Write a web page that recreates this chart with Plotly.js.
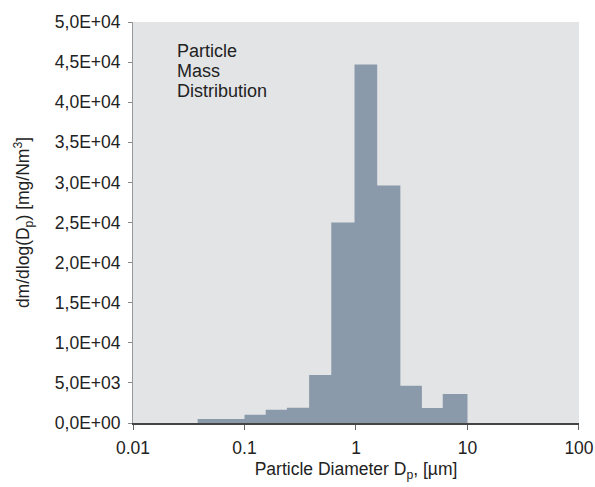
<!DOCTYPE html>
<html>
<head>
<meta charset="utf-8">
<script src="https://cdn.plot.ly/plotly-3.0.1.min.js"></script>
<style>html,body{margin:0;padding:0;background:#fff;}#chart{width:595px;height:487px;}</style>
</head>
<body>
<div id="chart"></div>
<script>
// Bin edges (µm) and mass distribution values per bin
const binEdges = [0.038, 0.1, 0.155, 0.24, 0.38, 0.6, 0.97, 1.55, 2.5, 3.9, 6.0, 10];
const massValues = [500, 1030, 1650, 1900, 6000, 25000, 44700, 29600, 4650, 1880, 3620];
const yTickVals = [0, 5000, 10000, 15000, 20000, 25000, 30000, 35000, 40000, 45000, 50000];
const yTickText = ["0,0E+00","5,0E+03","1,0E+04","1,5E+04","2,0E+04","2,5E+04","3,0E+04","3,5E+04","4,0E+04","4,5E+04","5,0E+04"];
const xTickVals = [0.01, 0.1, 1, 10, 100];
const xTickText = ["0.01", "0.1", "1", "10", "100"];
const labelLines = ["Particle", "Mass", "Distribution"];

const stepY = massValues.concat([0]);

const trace = {
  x: binEdges,
  y: stepY,
  type: 'scatter',
  mode: 'lines',
  line: {shape: 'hv', width: 0, color: '#8a9aaa'},
  fill: 'tozeroy',
  fillcolor: '#8a9aaa',
  hoverinfo: 'skip',
  showlegend: false
};

const fam = '"Liberation Sans", Arial, Helvetica, sans-serif';
const font = {family: fam, size: 17.5, color: '#222'};

const annY = [0.927, 0.877, 0.829];
const annotations = labelLines.map((t, i) => ({
  xref: 'paper', yref: 'paper',
  x: 0.094, y: annY[i],
  xanchor: 'left', yanchor: 'middle',
  align: 'left', showarrow: false,
  text: t, font: {family: fam, size: 18, color: '#222'}
}));

const layout = {
  width: 595, height: 487,
  margin: {l: 133, r: 16, t: 22, b: 64},
  paper_bgcolor: '#ffffff',
  plot_bgcolor: '#e3e4e6',
  font: font,
  showlegend: false,
  xaxis: {
    type: 'log',
    range: [-2, 2.0002],
    tickvals: xTickVals,
    ticktext: xTickText,
    ticks: 'outside', ticklen: 5, tickcolor: '#666', tickwidth: 1,
    ticklabelstandoff: 3,
    ticklabeloverflow: 'allow',
    showgrid: false, zeroline: false,
    showline: true, linecolor: '#444', linewidth: 1.5,
    tickfont: font,
    title: {text: 'Particle Diameter D<sub>p</sub>, [µm]', font: font, standoff: 6}
  },
  yaxis: {
    range: [0, 50000],
    tickvals: yTickVals,
    ticktext: yTickText,
    ticks: 'outside', ticklen: 4, tickcolor: '#888', tickwidth: 1,
    ticklabelstandoff: 4,
    showgrid: false, zeroline: false,
    showline: true, linecolor: '#999', linewidth: 1,
    tickfont: font,
    title: {text: 'dm/dlog(D<sub>p</sub>) [mg/Nm<sup>3</sup>]', font: font, standoff: 20}
  },
  annotations: annotations
};

Plotly.newPlot('chart', [trace], layout, {displayModeBar: false, staticPlot: true});
</script>
</body>
</html>
